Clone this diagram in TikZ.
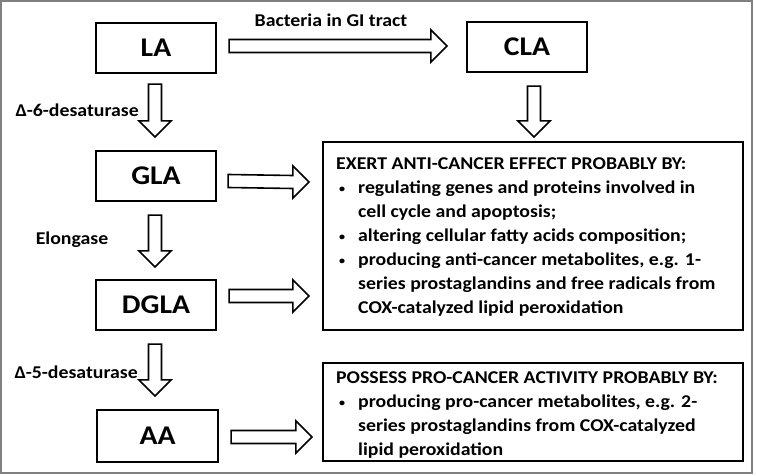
\documentclass[tikz,border=0pt]{standalone}
\usepackage{fontspec}
\setmainfont{Carlito}[FakeStretch=1.1]
\usetikzlibrary{calc}

\tikzset{
	acid/.style={draw=black, line width=2.2pt, minimum width=120pt, minimum height=50pt, inner sep=0, font=\fontsize{27}{30}\selectfont\bfseries},
	panel/.style={draw=black, line width=2.2pt, inner sep=0},
	panel text/.style={anchor=north west, inner sep=0, align=left, font=\fontsize{18}{24}\selectfont\bfseries},
	enzyme/.style={inner sep=0, font=\fontsize{18}{22}\selectfont\bfseries},
	fat/.style={draw=black, fill=white, line width=1.6pt, line join=miter}
}
% block arrows: #1 start, #2 tip
\newcommand{\rightfat}[2]{\draw[fat] ($(#1)+(0,-6.5)$) -- ($(#2)+(-16,-6.5)$) -- ($(#2)+(-16,-16)$) -- (#2) -- ($(#2)+(-16,16)$) -- ($(#2)+(-16,6.5)$) -- ($(#1)+(0,6.5)$) -- cycle;}
\newcommand{\downfat}[2]{\draw[fat] ($(#1)+(-6.5,0)$) -- ($(#2)+(-6.5,-16)$) -- ($(#2)+(-16,-16)$) -- (#2) -- ($(#2)+(16,-16)$) -- ($(#2)+(6.5,-16)$) -- ($(#1)+(6.5,0)$) -- cycle;}
\newcommand{\dotitem}{\makebox[22pt][l]{\hspace{3pt}\raisebox{1pt}{\fontsize{11}{11}\selectfont•}}}

\begin{document}
\begin{tikzpicture}[x=1pt, y=-1pt]
		\useasboundingbox (0,0) rectangle (757,476);
		\draw[gray, line width=1.5pt] (1,1) rectangle (752,473);

		% fatty acids
		\node[acid] (la) at (156,48) {LA};
		\node[acid] (cla) at (527,47) {CLA};
		\node[acid] (gla) at (156,176) {GLA};
		\node[acid] (dgla) at (156,305) {DGLA};
		\node[acid, minimum width=121pt, minimum height=52pt] (aa) at (157.5,436) {AA};

		% effect panels
		\node[panel, minimum width=420pt, minimum height=188pt] (anti) at (533,236) {};
		\node[panel, minimum width=420pt, minimum height=98pt] (pro) at (533,412) {};
		\node[panel text] (antitext) at (336,157) {EXERT ANTI-CANCER EFFECT PROBABLY BY:\\
			\dotitem regulating genes and proteins involved in\\
			\hspace*{22pt}cell cycle and apoptosis;\\
			\dotitem altering cellular fatty acids composition;\\
			\dotitem producing anti-cancer metabolites, e.g. 1-\\
			\hspace*{22pt}series prostaglandins and free radicals from\\
			\hspace*{22pt}COX-catalyzed lipid peroxidation};
		\node[panel text] (protext) at (336,371) {POSSESS PRO-CANCER ACTIVITY PROBABLY BY:\\
			\dotitem producing pro-cancer metabolites, e.g. 2-\\
			\hspace*{22pt}series prostaglandins from COX-catalyzed\\
			\hspace*{22pt}lipid peroxidation};

		% arrow ends
		\coordinate (bacteria start) at ($(la.east)+(12,-2)$);
		\coordinate (bacteria tip) at ($(cla.west)+(-19,-1)$);
		\rightfat{bacteria start}{bacteria tip}
		\node[enzyme] (bacteria) at (331,20) {Bacteria in GI tract};

		\coordinate (d6 start) at ($(la.south)+(-1,10)$);
		\coordinate (d6 tip) at ($(gla.north)+(-1,-13)$);
		\downfat{d6 start}{d6 tip}
		\node[enzyme, anchor=east] (d6) at (139,110) {Δ-6-desaturase};

		\coordinate (elo start) at ($(gla.south)+(-1,13)$);
		\coordinate (elo tip) at ($(dgla.north)+(-1,-12)$);
		\downfat{elo start}{elo tip}
		\node[enzyme] (elongase) at (72,240) {Elongase};

		\coordinate (d5 start) at ($(dgla.south)+(-1,13)$);
		\coordinate (d5 tip) at ($(aa.north)+(-2.5,-13)$);
		\downfat{d5 start}{d5 tip}
		\node[enzyme, anchor=east] (d5) at (138,372) {Δ-5-desaturase};

		\coordinate (cla start) at ($(cla.south)+(7,13)$);
		\coordinate (cla tip) at ($(anti.north)+(1,-4)$);
		\downfat{cla start}{cla tip}

		\coordinate (gla start) at ($(gla.east)+(11,5)$);
		\coordinate (gla tip) at ($(anti.west)+(-13,-54)$);
		\rightfat{gla start}{gla tip}

		\coordinate (dgla start) at ($(dgla.east)+(12,-9)$);
		\coordinate (dgla tip) at ($(anti.west)+(-13,60)$);
		\rightfat{dgla start}{dgla tip}

		\coordinate (aa start) at ($(aa.east)+(12,1)$);
		\coordinate (aa tip) at ($(pro.west)+(-10,25)$);
		\rightfat{aa start}{aa tip}
	\end{tikzpicture}
\end{document}
